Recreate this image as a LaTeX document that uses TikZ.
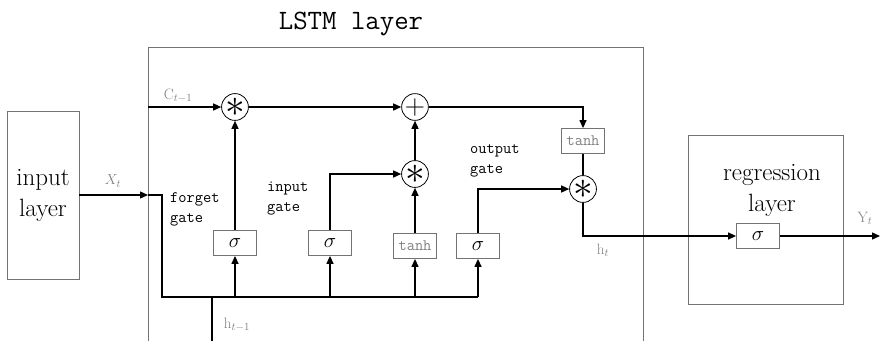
\documentclass[tikz,border=0pt]{standalone}
\usepackage{fontspec}
\usepackage{graphicx}
\usetikzlibrary{arrows.meta}
\definecolor{boxgray}{gray}{0.45}
\definecolor{lblgray}{gray}{0.5}
\newcommand{\bigast}{\scalebox{1.9}{$\ast$}}
\newcommand{\bigplus}{\scalebox{1.35}{$+$}}
\tikzset{
 conn/.style={line width=1.3pt, black},
 arr/.style={conn, -{Triangle[length=8pt,width=7pt]}},
 opbox/.style={draw=boxgray, line width=0.8pt, minimum width=43pt, minimum height=25pt, inner sep=0pt, font=\fontsize{20}{20}\selectfont},
 tanhbox/.style={opbox, text=lblgray, font=\fontsize{16}{16}\selectfont\ttfamily},
 opcirc/.style={draw=black, line width=0.8pt, circle, minimum size=23pt, inner sep=0pt},
 multop/.style={opcirc, font=\fontsize{20}{20}\selectfont},
 layerbox/.style={draw=boxgray, line width=0.8pt, inner sep=0pt},
 gatelbl/.style={font=\fontsize{16}{20}\selectfont\ttfamily, align=left, anchor=west, inner sep=0pt},
 small/.style={text=lblgray, font=\fontsize{15}{15}\selectfont, inner sep=0pt},
 bigtext/.style={align=center, font=\fontsize{25}{31}\selectfont, inner sep=0pt},
}
\begin{document}
\begin{tikzpicture}[x=1pt,y=-1pt]
\useasboundingbox (0,0) rectangle (880,341);
% LSTM layer frame and title
\node[font=\fontsize{28}{28}\selectfont\ttfamily] (title) at (351,24) {LSTM layer};
\draw[layerbox] (148,341) -- (148,47) -- (643,47) -- (643,341);
% input and regression layers
\node[layerbox, bigtext, minimum width=72pt, minimum height=168pt] (inp) at (43,195) {input\\layer};
\node[layerbox, minimum width=155pt, minimum height=169pt] (reg) at (765.5,219.5) {};
\node[bigtext] (regl) at (772,190) {regression\\layer};
% gate boxes
\node[opbox] (sf) at (235,243) {$\sigma$};
\node[opbox] (si) at (330,243) {$\sigma$};
\node[tanhbox] (tg) at (415,246) {tanh};
\node[opbox] (so) at (478,246) {$\sigma$};
\node[tanhbox] (tc) at (583,141) {tanh};
\node[opbox] (sr) at (758,236) {$\sigma$};
% operators
\node[multop] (m1) at (235,107) {\bigast};
\node[multop] (pl) at (415,107) {\bigplus};
\node[multop] (m2) at (415,174) {\bigast};
\node[multop] (m3) at (583,189) {\bigast};
% coordinates
\coordinate (cin) at (148,107);
\coordinate (xin) at (148,195);
\coordinate (bl) at (162,297);
\coordinate (br) at (478,297);
\coordinate (hin) at (212,341);
\coordinate (yout) at (880,236);
% connectors
\draw[arr] (cin) -- (m1);
\draw[arr] (m1) -- (pl);
\draw[arr] (pl) -| (tc);
\draw[conn] (tc) -- (m3);
\draw[arr] (m3) |- (sr);
\draw[arr] (sr) -- (yout);
\draw[arr] (inp) -- (xin);
\draw[conn] (xin) -| (bl) -- (br);
\draw[conn] (hin) -- (hin |- bl);
\draw[arr] (sf |- bl) -- (sf);
\draw[arr] (si |- bl) -- (si);
\draw[arr] (tg |- bl) -- (tg);
\draw[arr] (so |- bl) -- (so);
\draw[arr] (sf) -- (m1);
\draw[arr] (si) |- (m2);
\draw[arr] (tg) -- (m2);
\draw[arr] (m2) -- (pl);
\draw[arr] (so) |- (m3);
% labels
\node[gatelbl] (lf) at (170,209) {forget\\gate};
\node[gatelbl] (li) at (267,199) {input\\gate};
\node[gatelbl] (lo) at (470,161) {output\\gate};
\node[small] (lc) at (178,96) {C$_{t-1}$};
\node[small] (lx) at (113,181) {$X_t$};
\node[small] (lht) at (603,250) {h$_t$};
\node[small] (lh1) at (237,325) {h$_{t-1}$};
\node[small] (ly) at (865,218) {Y$_t$};
\end{tikzpicture}
\end{document}
